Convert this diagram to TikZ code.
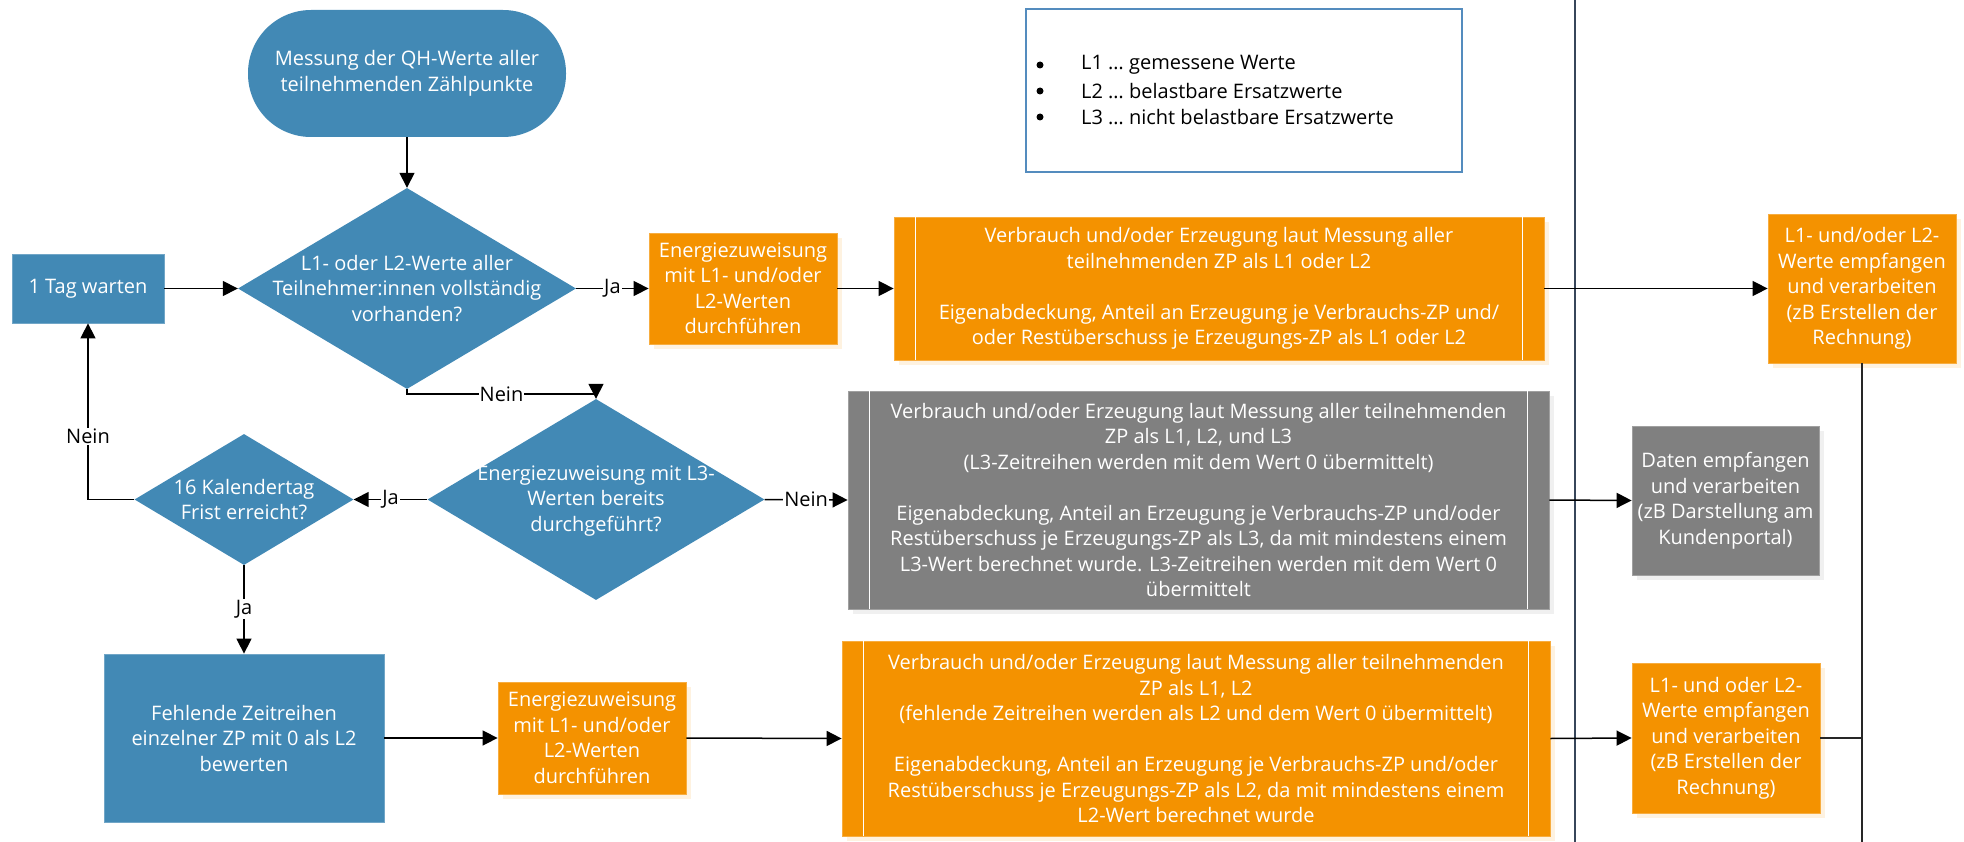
\documentclass[tikz,border=0pt]{standalone}
\usepackage{fontspec}
\setmainfont{Open Sans}
\usetikzlibrary{arrows.meta,shapes.geometric,shadows,calc}
\definecolor{fblue}{RGB}{66,137,181}
\definecolor{forange}{RGB}{244,146,0}
\definecolor{fgray}{RGB}{128,128,128}
\definecolor{legendb}{RGB}{84,140,190}
\definecolor{sepcol}{RGB}{55,70,90}
\begin{document}
\begin{tikzpicture}[x=1pt,y=-1pt,
  every node/.style={font=\fontsize{20}{25.5}\selectfont},
  box/.style={rectangle, inner sep=0pt, align=center, text=white},
  bluebox/.style={box, fill=fblue, draw=fblue!75!white, line width=0.8pt},
  orbox/.style={box, fill=forange, draw=forange!75!white, line width=0.8pt,
    drop shadow={shadow xshift=5pt, shadow yshift=-5pt, opacity=0.12, fill=forange}},
  grbox/.style={box, fill=fgray, draw=fgray!75!white, line width=0.8pt,
    drop shadow={shadow xshift=5pt, shadow yshift=-5pt, opacity=0.12, fill=fgray}},
  dia/.style={diamond, fill=fblue, inner sep=0pt},
  txt/.style={text=white, align=center, inner sep=0pt},
  conn/.style={line width=1.5pt, -{Triangle[length=15pt,width=15pt]}},
  plainline/.style={line width=1.5pt},
  lbl/.style={fill=white, inner sep=1pt, text=black},
  subline/.style={white, line width=1.5pt},
  bul/.style={circle, fill=black, inner sep=0pt, minimum size=7pt},
]
\useasboundingbox (0,0) rectangle (1964,842);

% separator
\coordinate (sepTop) at (1575,0);
\coordinate (sepBot) at (1575,842);
\draw[sepcol, line width=1.5pt] (sepTop) -- (sepBot);

% legend
\node[rectangle, draw=legendb, line width=1.3pt, minimum width=436pt, minimum height=163pt] (legend) at (1244,90.5) {};
\node[bul] (b1) at (1040,65) {};
\node[bul] (b2) at (1040,91) {};
\node[bul] (b3) at (1040,117) {};
\node[inner sep=0pt, anchor=west] (l1) at (1081,65) {L1 … gemessene Werte};
\node[inner sep=0pt, anchor=west] (l2) at (1081,91) {L2 … belastbare Ersatzwerte};
\node[inner sep=0pt, anchor=west] (l3) at (1081,117) {L3 … nicht belastbare Ersatzwerte};

% nodes
\node[box, fill=fblue, rounded corners=63pt, minimum width=318pt, minimum height=127pt] (start) at (407,73.5)
  {Messung der QH-Werte aller\\teilnehmenden Zählpunkte};
\node[bluebox, minimum width=152pt, minimum height=69pt] (wait) at (88,288.5) {1 Tag warten};
\node[dia, minimum width=338pt, minimum height=201pt] (d1) at (407,288.5) {};
\node[txt] (d1t) at (d1.center) {L1- oder L2-Werte aller\\Teilnehmer:innen vollständig\\vorhanden?};
\node[orbox, minimum width=188pt, minimum height=111pt] (e1) at (743,288.5)
  {Energiezuweisung\\mit L1- und/oder\\L2-Werten\\durchführen};
\node[orbox, minimum width=650pt, minimum height=143pt] (o1) at (1219,288.5)
  {Verbrauch und/oder Erzeugung laut Messung aller\\teilnehmenden ZP als L1 oder L2\\[25.5pt]Eigenabdeckung, Anteil an Erzeugung je Verbrauchs-ZP und/\\oder Restüberschuss je Erzeugungs-ZP als L1 oder L2};
\draw[subline] ([xshift=22pt]o1.north west) -- ([xshift=22pt]o1.south west);
\draw[subline] ([xshift=-22pt]o1.north east) -- ([xshift=-22pt]o1.south east);
\node[orbox, minimum width=188pt, minimum height=149pt] (r1) at (1862,288.5)
  {L1- und/oder L2-\\Werte empfangen\\und verarbeiten\\(zB Erstellen der\\Rechnung)};

\node[dia, minimum width=337pt, minimum height=201pt] (d2) at (596,499.5) {};
\node[txt] (d2t) at (596,501) {Energiezuweisung mit L3-\\Werten bereits\\durchgeführt?};
\node[dia, minimum width=219pt, minimum height=131pt] (d3) at (244,499.5) {};
\node[txt] (d3t) at (d3.center) {16 Kalendertag\\Frist erreicht?};
\node[grbox, minimum width=701pt, minimum height=218pt] (g1) at (1198.5,500)
  {Verbrauch und/oder Erzeugung laut Messung aller teilnehmenden\\ZP als L1, L2, und L3\\(L3-Zeitreihen werden mit dem Wert 0 übermittelt)\\[25.5pt]Eigenabdeckung, Anteil an Erzeugung je Verbrauchs-ZP und/oder\\Restüberschuss je Erzeugungs-ZP als L3, da mit mindestens einem\\L3-Wert berechnet wurde. L3-Zeitreihen werden mit dem Wert 0\\übermittelt};
\draw[subline] ([xshift=22pt]g1.north west) -- ([xshift=22pt]g1.south west);
\draw[subline] ([xshift=-22pt]g1.north east) -- ([xshift=-22pt]g1.south east);
\node[grbox, minimum width=187pt, minimum height=149pt] (daten) at (1725.5,500.5)
  {Daten empfangen\\und verarbeiten\\(zB Darstellung am\\Kundenportal)};

\node[bluebox, minimum width=280pt, minimum height=168pt] (fehl) at (244,738)
  {Fehlende Zeitreihen\\einzelner ZP mit 0 als L2\\bewerten};
\node[orbox, minimum width=188pt, minimum height=112pt] (e2) at (592,738)
  {Energiezuweisung\\mit L1- und/oder\\L2-Werten\\durchführen};
\node[orbox, minimum width=708pt, minimum height=195pt] (o2) at (1196,738.5)
  {Verbrauch und/oder Erzeugung laut Messung aller teilnehmenden\\ZP als L1, L2\\(fehlende Zeitreihen werden als L2 und dem Wert 0 übermittelt)\\[25.5pt]Eigenabdeckung, Anteil an Erzeugung je Verbrauchs-ZP und/oder\\Restüberschuss je Erzeugungs-ZP als L2, da mit mindestens einem\\L2-Wert berechnet wurde};
\draw[subline] ([xshift=22pt]o2.north west) -- ([xshift=22pt]o2.south west);
\draw[subline] ([xshift=-22pt]o2.north east) -- ([xshift=-22pt]o2.south east);
\node[orbox, minimum width=188pt, minimum height=150pt] (r2) at (1726,738)
  {L1- und oder L2-\\Werte empfangen\\und verarbeiten\\(zB Erstellen der\\Rechnung)};

% connectors
\draw[conn] (start.south) -- (d1.north);
\draw[conn] (wait.east) -- (d1.west);
\draw[conn] (d1.east) -- node[lbl] (lja1) {Ja} (e1.west);
\draw[conn] (e1.east) -- (o1.west);
\draw[conn] (o1.east) -- (r1.west);
\draw[conn] (d1.south) -- ++(0,5) -| node[lbl, pos=0.25] (lnein1) {Nein} (d2.north);
\draw[conn] (d2.east) -- node[lbl] (lnein2) {Nein} (g1.west);
\draw[conn] (g1.east) -- (daten.west);
\draw[conn] (d2.west) -- node[lbl] (lja2) {Ja} (d3.east);
\draw[conn] (d3.west) -| node[lbl, pos=0.68] (lnein3) {Nein} (wait.south);
\draw[conn] (d3.south) -- node[lbl] (lja3) {Ja} (fehl.north);
\draw[conn] (fehl.east) -- (e2.west);
\draw[conn] (e2.east) -- (o2.west);
\draw[conn] (o2.east) -- (r2.west);
\coordinate (rend) at (1862,842);
\draw[plainline, black!85] (r1.south) -- (rend);
\draw[plainline, black!85] (r2.east) -- (r2.east -| r1.south);
\end{tikzpicture}
\end{document}
